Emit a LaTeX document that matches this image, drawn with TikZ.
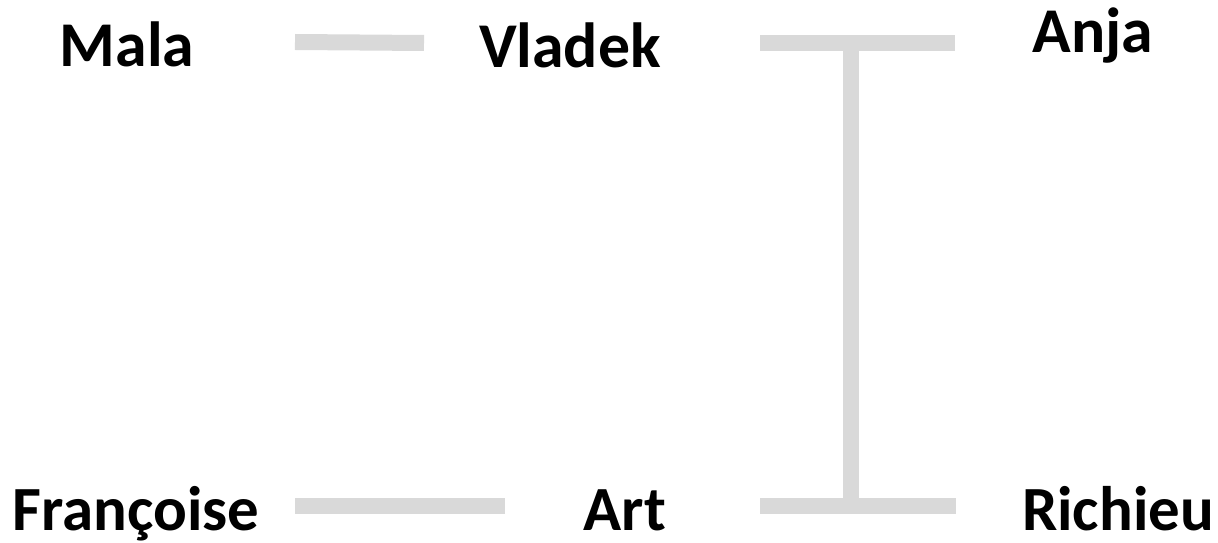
\documentclass[tikz,border=0pt]{standalone}
\usepackage{fontspec}
\setmainfont{Carlito}
\usepackage{tikz}
\usetikzlibrary{calc}
\definecolor{linkgray}{RGB}{217,217,217}

\begin{document}
\begin{tikzpicture}[x=0.02cm,y=-0.02cm,
    member/.style={font=\fontsize{#1}{#1}\selectfont\bfseries,anchor=base,
      inner sep=0pt,text height=1cm,text depth=0pt},
    link/.style={draw=linkgray,line width=0.32cm}]
          \useasboundingbox (0,0) rectangle (1218,543);
          % parents
          \node[member=36.3] (mala) at (127,67) {Mala};
          \node[member=36.3] (vladek) at (570,68) {Vladek};
          \node[member=36.3] (anja) at (1093,53) {Anja};
          % children
          \node[member=35.8] (francoise) at (136,531) {Françoise};
          \node[member=35.8] (art) at (625,531) {Art};
          \node[member=35.8] (richieu) at (1118,531) {Richieu};
          % marriages
          \draw[link] ($(mala.center)+(168,0)$) -- ($(vladek.center)+(-146,0)$);
          \draw[link] ($(vladek.center)+(190,0)$) -- ($(vladek.center -| anja.center)+(-138,0)$);
          \draw[link] ($(francoise.center)+(159,0)$) -- ($(art.center)+(-120,0)$);
          \draw[link] ($(art.center)+(135,0)$) -- ($(richieu.center)+(-162,0)$);
          % descent
          \coordinate (tee) at ($(vladek.center)+(281,0)$);
          \draw[link] (tee) -- (tee |- art.center);
        \end{tikzpicture}
\end{document}
